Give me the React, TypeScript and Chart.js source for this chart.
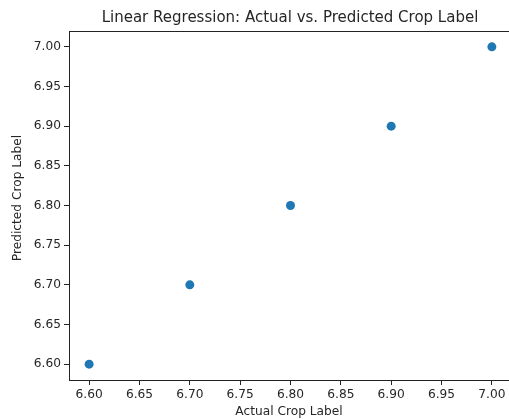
import React, { useEffect, useRef } from "react";
import { Chart, registerables } from "chart.js";

Chart.register(...registerables);

const actual = [6.6, 6.7, 6.8, 6.9, 7.0];
const predicted = [6.6, 6.7, 6.8, 6.9, 7.0];
const xTicks = [6.6, 6.65, 6.7, 6.75, 6.8, 6.85, 6.9, 6.95, 7.0];
const yTicks = [6.6, 6.65, 6.7, 6.75, 6.8, 6.85, 6.9, 6.95, 7.0];
const titleText = "Linear Regression: Actual vs. Predicted Crop Label";
const xLabel = "Actual Crop Label";
const yLabel = "Predicted Crop Label";

const FONT = "'DejaVu Sans', sans-serif";
const TEXT = "#262626";

export default function App() {
  const ref = useRef<HTMLCanvasElement>(null);
  useEffect(() => {
    const ctx = ref.current!;
    const textPlugin = {
      id: "mplText",
      afterDraw(chart: any) {
        const c = chart.ctx;
        const a = chart.chartArea;
        c.save();
        c.fillStyle = "#222";
        c.fillRect(a.left, a.top, 509 - a.left, 1);
        c.fillStyle = TEXT;
        c.textAlign = "center";
        c.textBaseline = "middle";
        c.font = `15px ${FONT}`;
        c.fillText(titleText, 290, 18);
        c.font = `12.2px ${FONT}`;
        c.fillText(xLabel, 289, 412);
        c.translate(18, 198);
        c.rotate(-Math.PI / 2);
        c.fillText(yLabel, 0, 0);
        c.restore();
      },
    };
    const chart = new Chart(ctx, {
      type: "scatter",
      data: {
        datasets: [
          {
            data: actual.map((x, i) => ({ x, y: predicted[i] })),
            backgroundColor: "#1f77b4",
            borderColor: "#1f77b4",
            pointRadius: 4.5,
            borderWidth: 0,
          },
        ],
      },
      options: {
        animation: false,
        responsive: false,
        layout: { padding: { top: 31, right: 28, left: 0, bottom: 0 } },
        plugins: { legend: { display: false }, tooltip: { enabled: false }, title: { display: false } },
        scales: {
          x: {
            type: "linear",
            min: 6.58,
            max: 7.02,
            afterFit: (s: any) => { s.height = 39; },
            afterBuildTicks: (s: any) => { s.ticks = xTicks.map((v) => ({ value: v })); },
            grid: { display: true, drawOnChartArea: false, drawTicks: true, tickLength: 5, color: "#222" },
            border: { display: true, color: "#222" },
            ticks: {
              color: TEXT,
              font: { family: FONT, size: 12.2 },
              padding: 3,
              maxRotation: 0,
              autoSkip: false,
              callback: (v: any) => Number(v).toFixed(2),
            },
          },
          y: {
            type: "linear",
            min: 6.58,
            max: 7.02,
            afterFit: (s: any) => { s.width = 69; },
            afterBuildTicks: (s: any) => { s.ticks = yTicks.map((v) => ({ value: v })); },
            grid: { display: true, drawOnChartArea: false, drawTicks: true, tickLength: 5, color: "#222" },
            border: { display: true, color: "#222" },
            ticks: {
              color: TEXT,
              font: { family: FONT, size: 12.2 },
              padding: 3,
              autoSkip: false,
              callback: (v: any) => Number(v).toFixed(2),
            },
          },
        },
      },
      plugins: [textPlugin],
    });
    return () => chart.destroy();
  }, []);
  return (
    <div style={{ position: "absolute", left: 0, top: 0, width: 509, height: 419, overflow: "hidden", background: "#fff" }}>
      <canvas ref={ref} width={540} height={419} style={{ display: "block" }} />
    </div>
  );
}
